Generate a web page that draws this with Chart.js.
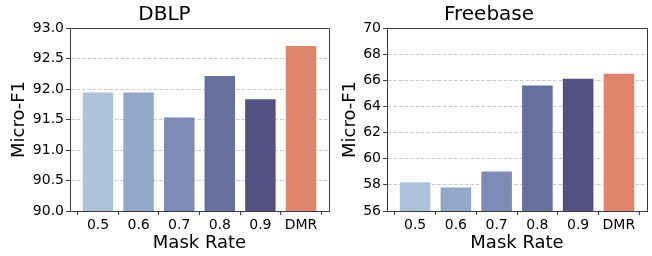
<!DOCTYPE html>
<html>
<head>
<meta charset="utf-8">
<script src="https://cdn.jsdelivr.net/npm/chart.js@4/dist/chart.umd.min.js"></script>
<style>
    html, body { margin: 0; padding: 0; background: #fff; }
    #wrap { position: relative; width: 652px; height: 256px; overflow: hidden; }
    #wrap canvas { position: absolute; top: 0; }
</style>
</head>
<body>
<div id="wrap">
    <canvas id="dblpChart" width="331" height="256" style="left:0"></canvas>
    <canvas id="freebaseChart" width="321" height="256" style="left:331px"></canvas>
</div>
<script>
// mask rates on the x axis, last one is the full model
const maskRates = ['0.5', '0.6', '0.7', '0.8', '0.9', 'DMR'];
const dblpF1 = [91.96, 91.96, 91.55, 92.23, 91.85, 92.72];
const freebaseF1 = [58.27, 57.88, 59.10, 65.68, 66.20, 66.58];
const dblpTicks = [90, 93, 0.5];      // min, max, step
const freebaseTicks = [56, 70, 2];
const barColors = ['#adc3db', '#92a8c8', '#7d8cb5', '#68709e', '#545182', '#e0846c'];

(function() {
    'use strict';

    const font = 'DejaVu Sans';
    const axisCol = '#3c3c3c';

    // draws the top and right spines, matplotlib style box
    const frame = {
        id: 'frame',
        afterDraw(chart) {
            const a = chart.chartArea, ctx = chart.ctx;
            ctx.save();
            ctx.strokeStyle = axisCol;
            ctx.lineWidth = 1;
            ctx.beginPath();
            ctx.moveTo(a.left, a.top + 0.5);
            ctx.lineTo(a.right + 0.5, a.top + 0.5);
            ctx.lineTo(a.right + 0.5, a.bottom);
            ctx.stroke();
            ctx.restore();
        }
    };

    function makeChart(id, title, values, yt, yWidth, padRight) {
        const pts = values.map((v, i) => ({ x: i, y: v }));
        return new Chart(document.getElementById(id), {
            type: 'bar',
            data: {
                datasets: [{
                    data: pts,
                    backgroundColor: barColors,
                    borderColor: 'rgba(255,255,255,0.45)',
                    borderWidth: 1,
                    barPercentage: 0.8,
                    categoryPercentage: 1.0
                }]
            },
            options: {
                responsive: false,
                animation: false,
                devicePixelRatio: 1,
                layout: { padding: { left: 0, right: padRight, top: 0, bottom: 0 } },
                plugins: {
                    legend: { display: false },
                    tooltip: { enabled: false },
                    title: {
                        display: true, text: title, color: '#000',
                        font: { family: font, size: 20, weight: 'normal', lineHeight: 1.2 },
                        padding: { top: 3, bottom: 1 }
                    }
                },
                scales: {
                    x: {
                        type: 'linear',
                        min: -0.69, max: 5.69,
                        offset: false,
                        afterBuildTicks: s => { s.ticks = maskRates.map((c, i) => ({ value: i })); },
                        afterFit: s => { s.height = 45; },
                        ticks: {
                            callback: v => maskRates[v],
                            color: '#000', padding: 2, maxRotation: 0, autoSkip: false,
                            font: { family: font, size: 14 }
                        },
                        grid: { drawOnChartArea: false, drawTicks: true, tickLength: 4, tickColor: axisCol },
                        border: { color: axisCol, width: 1 },
                        title: {
                            display: true, text: 'Mask Rate', color: '#000',
                            font: { family: font, size: 18, lineHeight: 1.2 },
                            padding: { top: 0, bottom: 2 }
                        }
                    },
                    y: {
                        min: yt[0], max: yt[1],
                        z: 1,
                        afterFit: s => { s.width = yWidth; },
                        ticks: {
                            stepSize: yt[2],
                            callback: v => yt[2] < 1 ? v.toFixed(1) : String(v),
                            color: '#000', padding: 2,
                            font: { family: font, size: 14 }
                        },
                        grid: {
                            color: 'rgba(180,180,180,0.7)', lineWidth: 1,
                            drawTicks: true, tickLength: 4, tickColor: axisCol, tickBorderDash: []
                        },
                        border: { color: axisCol, width: 1, dash: [3.5, 2] },
                        title: {
                            display: true, text: 'Micro-F1', color: '#000',
                            font: { family: font, size: 18, lineHeight: 1.2 },
                            padding: { top: 9, bottom: 0 }
                        }
                    }
                }
            },
            plugins: [frame]
        });
    }

    makeChart('dblpChart', 'DBLP', dblpF1, dblpTicks, 70, 2);
    makeChart('freebaseChart', 'Freebase', freebaseF1, freebaseTicks, 56, 5);
})();
</script>
</body>
</html>
